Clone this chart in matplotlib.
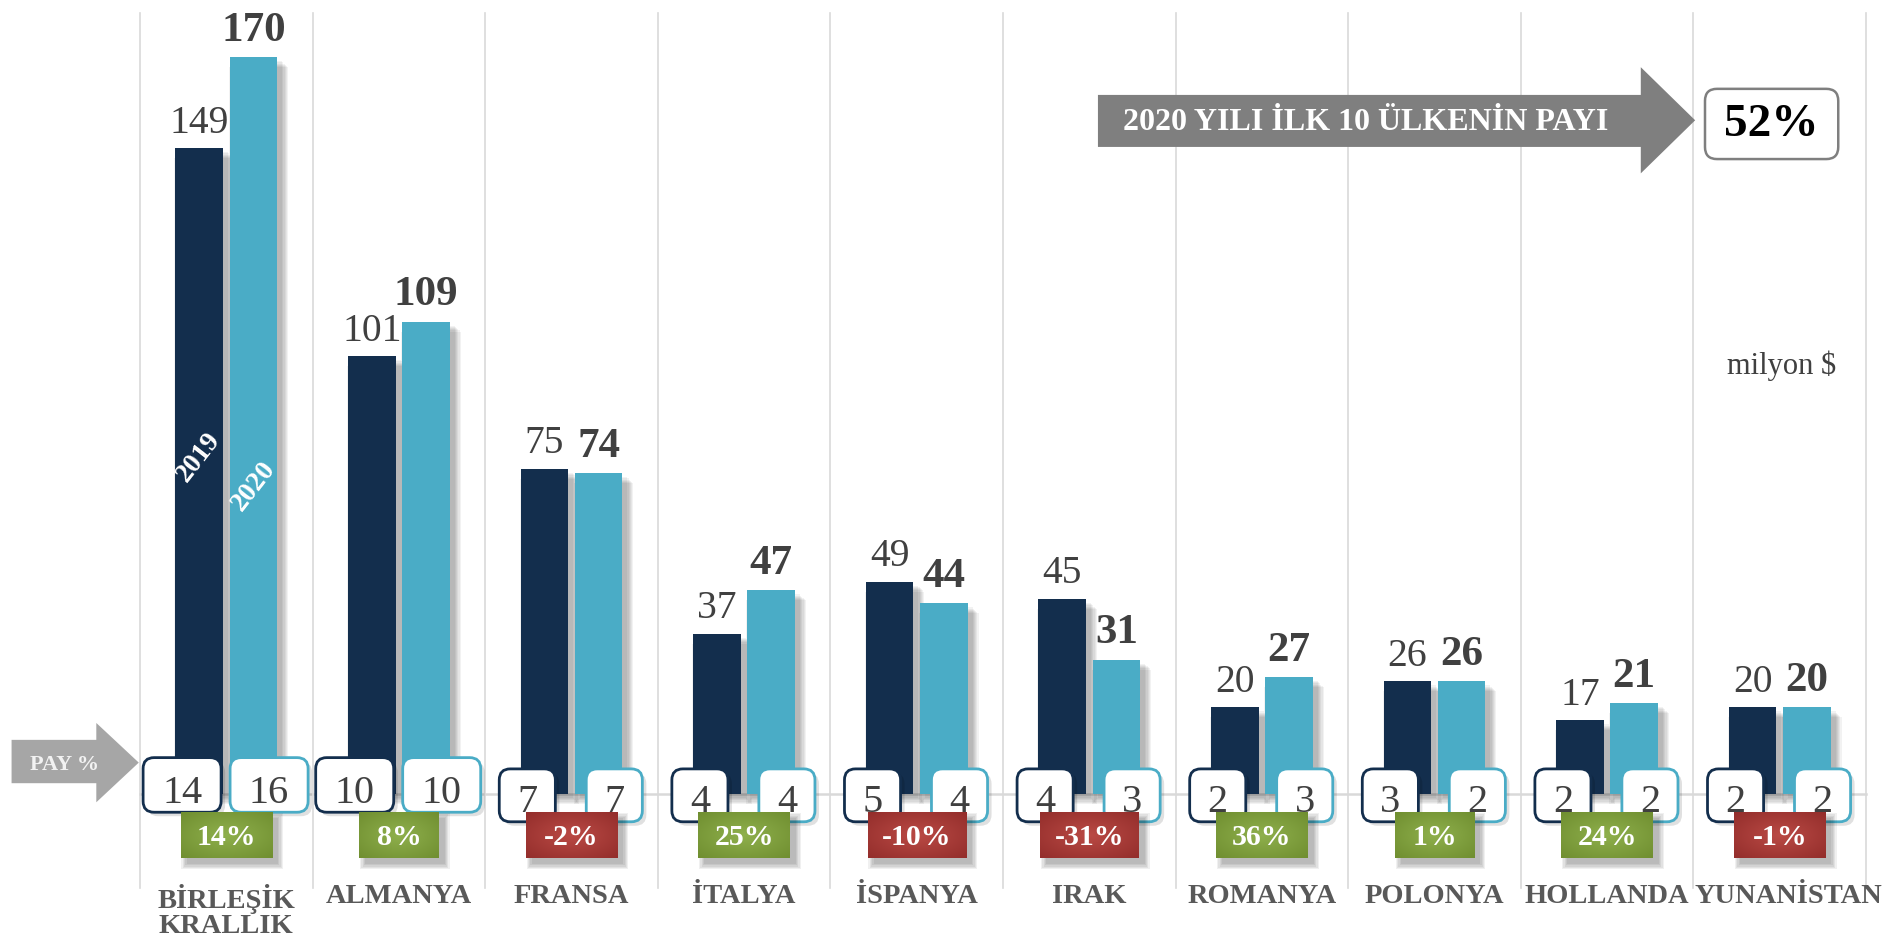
import matplotlib
matplotlib.use("Agg")
import matplotlib.pyplot as plt
from matplotlib.patches import Rectangle, FancyBboxPatch, Polygon
import numpy as np

plt.rcParams['font.family'] = ['Liberation Serif', 'DejaVu Serif']

countries = ["BİRLEŞİK\nKRALLIK", "ALMANYA", "FRANSA", "İTALYA", "İSPANYA",
             "IRAK", "ROMANYA", "POLONYA", "HOLLANDA", "YUNANİSTAN"]
v2019 = [149, 101, 75, 37, 49, 45, 20, 26, 17, 20]
v2020 = [170, 109, 74, 47, 44, 31, 27, 26, 21, 20]
pay2019 = [14, 10, 7, 4, 5, 4, 2, 3, 2, 2]
pay2020 = [16, 10, 7, 4, 4, 3, 3, 2, 2, 2]
change = [14, 8, -2, 25, -10, -31, 36, 1, 24, -1]
top10_share = "52%"

DARK = "#132e4d"
LIGHT = "#4aacc6"
GRID = "#d9d9d9"
TXT = "#404040"

# pixel sizes of one data unit (figure is 1894x944 at dpi 100)
PXX = 172.6
PXY = 4.337
ASPECT = PXX / PXY

fig = plt.figure(figsize=(18.94, 9.44), dpi=100)
ax = fig.add_axes([0, 0, 1, 1])
ax.axis('off')

x = np.arange(len(countries))
bw = 0.275
off = 0.157

# grid
for i in range(len(countries) + 1):
    ax.plot([i - 0.5, i - 0.5], [-21.7, 180.2], color=GRID, lw=1.2, zorder=0)
ax.plot([-0.5, 9.5], [0, 0], color=GRID, lw=1.8, zorder=0)


def shadow(x0, y0, w, h, z):
    dx, dy = 5 / PXX, -4 / PXY
    for k in range(6):
        e = k * 1.2
        ax.add_patch(Rectangle((x0 + dx - e / PXX, y0 + dy - e / PXY),
                               w + 2 * e / PXX, h,
                               color='black', alpha=0.05, lw=0, zorder=z))


# bars
for i in x:
    for val, c, sgn in ((v2019[i], DARK, -1), (v2020[i], LIGHT, 1)):
        x0 = i + sgn * off - bw / 2
        shadow(x0, 0, bw, val, 1)
        ax.add_patch(Rectangle((x0, 0), bw, val, color=c, lw=0, zorder=2))
    ax.text(i - off, v2019[i] + 3.6, str(v2019[i]), ha='center', va='baseline',
            fontsize=28.5, color=TXT, zorder=6)
    ax.text(i + off, v2020[i] + 3.8, str(v2020[i]), ha='center', va='baseline',
            fontsize=31, fontweight='bold', color=TXT, zorder=6)

ax.text(-off, 77.7, "2019", rotation=52, ha='center', va='center', fontsize=20,
        fontweight='bold', color='white', zorder=6)
ax.text(off, 71, "2020", rotation=52, ha='center', va='center', fontsize=20,
        fontweight='bold', color='white', zorder=6)

# share boxes
for i in x:
    for val, c, cx in ((pay2019[i], DARK, -0.256), (pay2020[i], LIGHT, 0.248)):
        two = len(str(val)) > 1
        w = 0.452 if two else 0.325
        y0 = -4.2 if two else -6.4
        h = 12.6 if two else 12.2
        ax.add_patch(FancyBboxPatch((i + cx - w / 2 + 4 / PXX, y0 - 4 / PXY), w, h,
                                    boxstyle="round,pad=0,rounding_size=%f" % (11 / PXX),
                                    mutation_aspect=ASPECT, fc='black', alpha=0.12,
                                    lw=0, zorder=3))
        ax.add_patch(FancyBboxPatch((i + cx - w / 2, y0), w, h,
                                    boxstyle="round,pad=0,rounding_size=%f" % (11 / PXX),
                                    mutation_aspect=ASPECT, fc='white', ec=c,
                                    lw=2.0, zorder=4))
        ax.text(i + cx, y0 + 2.2, str(val), ha='center', va='baseline', fontsize=29,
                color=TXT, zorder=4.5)

# change badges with radial shading
yy, xx = np.mgrid[-1:1:40j, -1:1:80j]
rad = np.clip(np.sqrt(xx ** 2 + yy ** 2) / 1.4, 0, 1)
for i in x:
    s = "%d%%" % change[i]
    w = {2: 0.46, 3: 0.53, 4: 0.57}[len(s)]
    if change[i] >= 0:
        inner, outer = np.array([0.56, 0.69, 0.30]), np.array([0.44, 0.56, 0.19])
    else:
        inner, outer = np.array([0.73, 0.29, 0.27]), np.array([0.58, 0.18, 0.17])
    img = inner[None, None, :] * (1 - rad[..., None]) + outer[None, None, :] * rad[..., None]
    x0, x1, y0, y1 = i - w / 2, i + w / 2, -14.8, -4.2
    for k in range(5):
        e = k * 1.3
        ax.add_patch(Rectangle((x0 + (6 - e) / PXX, y0 - (6 + e) / PXY),
                               w + 2 * e / PXX, (y1 - y0) + 2 * e / PXY,
                               color='black', alpha=0.06, lw=0, zorder=4.8))
    ax.imshow(img, extent=(x0, x1, y0, y1), aspect='auto', zorder=5,
              interpolation='bilinear')
    ax.text(i, -11.7, s, ha='center', va='baseline', fontsize=21.5,
            fontweight='bold', color='white', zorder=6)

# category labels (the last one is a bit wider than its column)
for i in x:
    shift = 0.05 if i == len(countries) - 1 else 0
    ax.text(i + shift, -20.8, countries[i], ha='center', va='top', fontsize=20.5,
            fontweight='bold', color='#595959', linespacing=1.0, zorder=6)

# PAY % arrow
ax.add_patch(Polygon([(-1.244, 2.5), (-0.753, 2.5), (-0.753, -1.9), (-0.507, 7.25),
                      (-0.753, 16.4), (-0.753, 12.5), (-1.244, 12.5)],
                     closed=True, fc='#a6a6a6', lw=0, zorder=3))
ax.text(-0.935, 6.8, "PAY %", ha='center', va='center', fontsize=16,
        fontweight='bold', color='#f2f2f2', zorder=6)

# top 10 share arrow
ax.add_patch(Polygon([(5.05, 149.3), (8.195, 149.3), (8.195, 143.2), (8.51, 155.45),
                      (8.195, 167.7), (8.195, 161.3), (5.05, 161.3)],
                     closed=True, fc='#7f7f7f', lw=0, zorder=3))
ax.text(6.60, 155.0, "2020 YILI İLK 10 ÜLKENİN PAYI", ha='center', va='center',
        fontsize=23, fontweight='bold', color='white', zorder=6)
ax.add_patch(FancyBboxPatch((8.567, 146.5), 0.772, 16.2,
                            boxstyle="round,pad=0,rounding_size=%f" % (12 / PXX),
                            mutation_aspect=ASPECT, fc='white', ec='#7f7f7f',
                            lw=1.8, zorder=4))
ax.text(8.953, 154.4, top10_share, ha='center', va='center', fontsize=34,
        fontweight='bold', color='black', zorder=6)

ax.text(9.009, 98.9, "milyon $", ha='center', va='center', fontsize=22,
        color=TXT, zorder=6)

ax.set_xlim(-1.311, 9.662)
ax.set_ylim(-34.6, 183.2)

fig.savefig("out.png", dpi=100)
